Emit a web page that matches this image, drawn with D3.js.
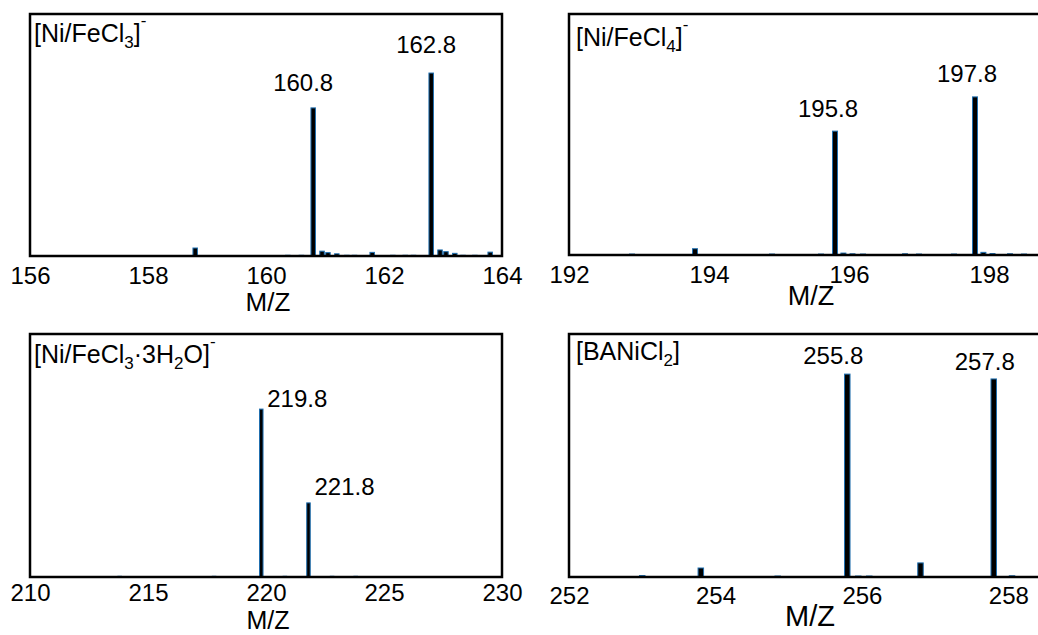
<!DOCTYPE html>
<html>
<head>
<meta charset="utf-8">
<script src="https://cdn.jsdelivr.net/npm/d3@7"></script>
<style>
  html, body { margin: 0; padding: 0; background: #fff; }
  svg { display: block; font-family: Arial, "Liberation Sans", sans-serif; }
</style>
</head>
<body>
<svg id="chart" width="1038" height="635"></svg>
<script>
// ---------- DATA ----------
// Panel A: [Ni/FeCl3]-
const mzA = [158.8, 160.37, 160.6, 160.8, 160.95, 161.05, 161.2, 161.37, 161.5, 161.8, 162.15, 162.36, 162.5, 162.8, 162.95, 163.05, 163.2, 163.34, 163.54, 163.8];
const intA = [3.3, 0.3, 0.3, 61.2, 2.0, 1.4, 0.9, 0.3, 0.3, 1.5, 0.3, 0.3, 0.3, 75.6, 2.5, 1.8, 1.1, 0.3, 0.3, 1.6];
const peaksA = [160.8, 162.8];
const ticksA = [156, 158, 160, 162, 164];
const domainA = [156, 164];

// Panel B: [Ni/FeCl4]-
const mzB = [192.9, 193.8, 194.9, 195.6, 195.8, 195.92, 196.05, 196.2, 196.8, 197.0, 197.5, 197.8, 197.92, 198.05, 198.3, 198.5];
const intB = [0.4, 2.6, 0.4, 0.4, 51.4, 0.8, 0.5, 0.4, 0.5, 0.4, 0.4, 65.6, 1.1, 0.6, 0.5, 0.4];
const peaksB = [195.8, 197.8];
const ticksB = [192, 194, 196, 198];
const domainB = [192, 198.8];

// Panel C: [Ni/FeCl3·3H2O]-
const mzC = [213.8, 217.8, 219.8, 220.8, 221.8, 222.8, 223.8];
const intC = [0.3, 0.3, 69.1, 0.3, 30.5, 0.3, 0.3];
const peaksC = [219.8, 221.8];
const ticksC = [210, 215, 220, 225, 230];
const domainC = [210, 230];

// Panel D: [BANiCl2]
const mzD = [253.0, 253.8, 254.85, 255.8, 255.95, 256.1, 256.8, 257.8, 258.05];
const intD = [0.6, 3.7, 0.4, 83.5, 0.4, 0.4, 5.8, 81.5, 0.5];
const peaksD = [255.8, 257.8];
const ticksD = [252, 254, 256, 258];
const domainD = [252, 258.5];

// ---------- LAYOUT ----------
const svg = d3.select("#chart");

const panels = [
  { mz: mzA, inten: intA, peaks: peaksA, ticks: ticksA, domain: domainA,
    x0: 30, x1: 502, y0: 14, y1: 256, barW: 4.5, pad: 11,
    title: [["[Ni/FeCl", 0], ["3", 1], ["]", 0], ["-", -1]], titleX: 34, titleY: 42,
    labels: [{dx: -10, dy: -17, anchor: "middle"}, {dx: -5, dy: -20, anchor: "middle"}],
    mzX: 268, mzY: 311, mzSize: 26 },
  { mz: mzB, inten: intB, peaks: peaksB, ticks: ticksB, domain: domainB,
    x0: 569, x1: 1045, y0: 14, y1: 255, barW: 5, pad: 11,
    title: [["[Ni/FeCl", 0], ["4", 1], ["]", 0], ["-", -1]], titleX: 576, titleY: 46,
    labels: [{dx: -7, dy: -14, anchor: "middle"}, {dx: -8, dy: -15, anchor: "middle"}],
    mzX: 811, mzY: 305, mzSize: 27 },
  { mz: mzC, inten: intC, peaks: peaksC, ticks: ticksC, domain: domainC,
    x0: 30, x1: 502, y0: 334, y1: 577, barW: 3.5, pad: 7,
    title: [["[Ni/FeCl", 0], ["3", 1], ["·3H", 0], ["2", 1], ["O]", 0], ["-", -1]], titleX: 34, titleY: 363,
    labels: [{dx: 6, dy: -2, anchor: "start"}, {dx: 6, dy: -8, anchor: "start"}],
    mzX: 268, mzY: 629, mzSize: 25 },
  { mz: mzD, inten: intD, peaks: peaksD, ticks: ticksD, domain: domainD,
    x0: 569, x1: 1045, y0: 334, y1: 577, barW: 5.5, pad: 10,
    title: [["[BANiCl", 0], ["2", 1], ["]", 0]], titleX: 576, titleY: 360,
    labels: [{dx: -14, dy: -10, anchor: "middle"}, {dx: -9, dy: -9, anchor: "middle"}],
    mzX: 810, mzY: 626, mzSize: 29 }
];

const off = k => (k === 1 ? 6 : k === -1 ? -16 : 0);

panels.forEach(p => {
  const x = d3.scaleLinear().domain(p.domain).range([p.x0, p.x1]);
  const y = d3.scaleLinear().domain([0, 100]).range([p.y1, p.y0]);
  const g = svg.append("g");

  const data = p.mz.map((m, i) => ({ m, v: p.inten[i] }));

  // bars
  g.selectAll("rect.bar").data(data).join("rect")
    .attr("class", "bar")
    .attr("x", d => x(d.m) - p.barW / 2)
    .attr("width", p.barW)
    .attr("y", d => y(d.v))
    .attr("height", d => Math.max(0.8, p.y1 - y(d.v)))
    .attr("fill", "#000")
    .attr("stroke", "#1f6fb0")
    .attr("stroke-width", 1);

  // frame
  g.append("rect")
    .attr("x", p.x0).attr("y", p.y0)
    .attr("width", p.x1 - p.x0).attr("height", p.y1 - p.y0)
    .attr("fill", "none").attr("stroke", "#000").attr("stroke-width", 2.5);

  // x axis
  const ax = g.append("g").attr("transform", `translate(0,${p.y1})`)
    .call(d3.axisBottom(x).tickValues(p.ticks).tickSize(0).tickPadding(p.pad).tickFormat(d3.format("d")));
  ax.select(".domain").remove();
  ax.attr("font-family", null).attr("font-size", null);
  ax.selectAll("text").attr("font-size", 24).attr("fill", "#000");

  // peak labels
  p.peaks.forEach((pk, i) => {
    const idx = p.mz.indexOf(pk);
    const L = p.labels[i];
    g.append("text")
      .attr("x", x(pk) + L.dx)
      .attr("y", y(p.inten[idx]) + L.dy)
      .attr("text-anchor", L.anchor)
      .attr("font-size", 24)
      .attr("fill", "#000")
      .text(pk.toFixed(1));
  });

  // title with sub/superscripts
  const t = g.append("text").attr("x", p.titleX).attr("y", p.titleY)
    .attr("font-size", 25).attr("fill", "#000");
  p.title.forEach(([s, k], i) => {
    const prev = i > 0 ? p.title[i - 1][1] : 0;
    const ts = t.append("tspan").text(s).attr("dy", off(k) - off(prev));
    if (k !== 0) ts.attr("font-size", 17);
  });

  // axis title
  g.append("text")
    .attr("x", p.mzX).attr("y", p.mzY)
    .attr("text-anchor", "middle")
    .attr("font-size", p.mzSize).attr("fill", "#000")
    .text("M/Z");
});
</script>
</body>
</html>
